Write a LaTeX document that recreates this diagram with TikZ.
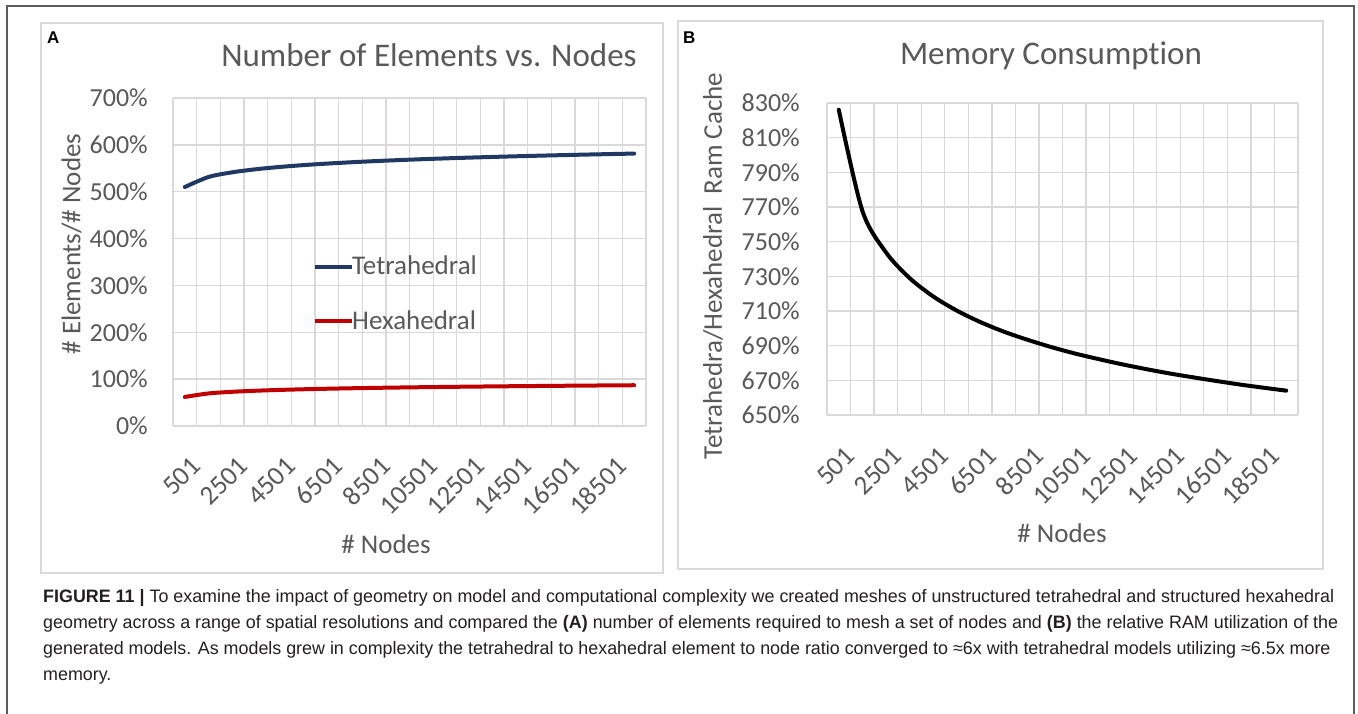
\documentclass[tikz,border=0pt]{standalone}
\usepackage{fontspec}
\usepackage{graphicx}
\setmainfont{Carlito}[Ligatures=NoCommon]
\newfontfamily\capfont{Liberation Sans}

\definecolor{txtgray}{HTML}{595959}
\definecolor{gridgray}{HTML}{D9D9D9}
\definecolor{tetracol}{HTML}{1F3864}
\definecolor{hexacol}{HTML}{C00000}
\definecolor{framecol}{HTML}{5C5C5C}
\definecolor{capcol}{HTML}{231F20}

\newlength\capw
\newcommand\capone{{\bfseries FIGURE 11 |} To examine the impact of geometry on model and computational complexity we created meshes of unstructured tetrahedral and structured hexahedral}
\newcommand\captwo{geometry across a range of spatial resolutions and compared the {\bfseries (A)} number of elements required to mesh a set of nodes and {\bfseries (B)} the relative RAM utilization of the}
\newcommand\capthree{generated models. As models grew in complexity the tetrahedral to hexahedral element to node ratio converged to ≈6x with tetrahedral models utilizing ≈6.5x more}
\newcommand\capfour{memory.}
% horizontal squeeze so that the first caption line spans 1291pt
\AtBeginDocument{%
  \settowidth{\capw}{\capfont\fontsize{18}{22}\selectfont\capone}%
  \pgfmathsetmacro\capsx{1291/\capw}%
}

\tikzset{
  gridln/.style={draw=gridgray, line width=1.3pt},
  panelbox/.style={draw=gridgray, line width=1.6pt},
  outerframe/.style={draw=framecol, line width=1.5pt},
  ticklbl/.style={text=txtgray, inner sep=0pt, font=\fontsize{26}{30}\selectfont},
  xticklbl/.style={text=txtgray, inner sep=0pt, font=\fontsize{27}{31}\selectfont, rotate=45, anchor=north east},
  axtitle/.style={text=txtgray, inner sep=0pt, font=\fontsize{27}{32}\selectfont},
  charttitle/.style={text=txtgray, inner sep=0pt, anchor=base, font=\fontsize{33}{39}\selectfont},
  panellbl/.style={inner sep=0pt, anchor=base west, font=\capfont\bfseries\fontsize{17}{20}\selectfont},
  legendtxt/.style={text=txtgray, inner sep=0pt, anchor=base west, font=\fontsize{27}{32}\selectfont},
  series/.style={line width=4pt, line cap=round, line join=round},
  capline/.style={text=capcol, inner sep=0pt, anchor=base west, font=\capfont\fontsize{18}{22}\selectfont},
}

\begin{document}
\begin{tikzpicture}[x=1pt, y=-1pt]
\useasboundingbox (0,0) rectangle (1358,714);
\fill[white] (0,0) rectangle (1358,714);

% outer figure frame (open at the bottom)
\draw[outerframe] (7,714) -- (7,6) -- (1354,6) -- (1354,714);

% ---------------- Panel A: element / node ratio ----------------
\draw[panelbox] (41,23) rectangle (663,573);
\node[panellbl] (labA) at (47,44) {A};
\node[charttitle] (titA) at (429,67) {Number of Elements vs. Nodes};

% plot area 173..646 (x), 98..426 (y)
\foreach \i in {0,...,20}
  \draw[gridln] ({173+\i*23.65},98) -- ({173+\i*23.65},426);
\foreach \k in {0,...,7}{
  \draw[gridln] (173,{426-\k*46.857}) -- (646,{426-\k*46.857});
  \pgfmathtruncatemacro\pct{\k*100}
  \node[ticklbl, anchor=east] (ya\k) at (148,{426-\k*46.857}) {\pct\%};
}

\foreach \c/\v in {1/501,3/2501,5/4501,7/6501,9/8501,11/10501,13/12501,15/14501,17/16501,19/18501}
  \node[xticklbl] (xa\c) at ({173+(\c-0.5)*23.65+5},455) {\v};

\node[axtitle, rotate=90] (yta) at (71.5,244) {\# Elements/\# Nodes};
\node[axtitle, anchor=base] (xta) at (386,553) {\# Nodes};

% series: one point per category (n = 501 + 1000 (c-1)), smoothed
\draw[series, tetracol] plot[smooth, tension=0.5, variable=\c, domain=1:20, samples=20]
  ({173+(\c-0.5)*23.65}, {426-0.46857*(510+19.5*ln(1+1.996*(\c-1)))});
\draw[series, hexacol] plot[smooth, tension=0.5, variable=\c, domain=1:20, samples=20]
  ({173+(\c-0.5)*23.65}, {426-0.46857*(62+6.83*ln(1+1.996*(\c-1)))});

% legend
\coordinate (lgt1) at (315,267);
\node[legendtxt] (lgtetra) at (352,275) {Tetrahedral};
\draw[series, tetracol, line cap=butt] (lgt1) -- (lgtetra.west |- lgt1);
\coordinate (lgh1) at (315,321);
\node[legendtxt] (lghexa) at (352,329) {Hexahedral};
\draw[series, hexacol, line cap=butt] (lgh1) -- (lghexa.west |- lgh1);

% ---------------- Panel B: memory consumption ----------------
\draw[panelbox] (678,21) rectangle (1323,569);
\node[panellbl] (labB) at (683,44) {B};
\node[charttitle] (titB) at (1051,65) {Memory Consumption};

% plot area 827..1298 (x), 103..415 (y)
\foreach \i in {0,...,20}
  \draw[gridln] ({827+\i*23.55},103) -- ({827+\i*23.55},415);
\foreach \k in {0,...,9}{
  \draw[gridln] (827,{415-\k*34.667}) -- (1298,{415-\k*34.667});
  \pgfmathtruncatemacro\pct{650+\k*20}
  \node[ticklbl, anchor=east] (yb\k) at (800,{415-\k*34.667}) {\pct\%};
}

\foreach \c/\v in {1/501,3/2501,5/4501,7/6501,9/8501,11/10501,13/12501,15/14501,17/16501,19/18501}
  \node[xticklbl] (xb\c) at ({827+(\c-0.5)*23.55+5},445) {\v};

\node[axtitle, rotate=90] (ytb) at (713,266) {Tetrahedra/Hexahedral\ \ Ram Cache};
\node[axtitle, anchor=base] (xtb) at (1062,542) {\# Nodes};

% ratio falls as a power of the node count: 442.8 + 973.6 n^(-0.15)
\draw[series, black] plot[smooth, tension=0.5, variable=\c, domain=1:20, samples=20]
  ({827+(\c-0.5)*23.55}, {415-1.7333*(442.8+973.6*exp(-0.15*(6.2166+ln(1+1.996*(\c-1))))-650)});

% ---------------- Caption ----------------
\node[capline] (cap1) at (43,602) {\scalebox{\capsx}[1]{\capone}};
\node[capline] (cap2) at (43,628) {\scalebox{\capsx}[1]{\captwo}};
\node[capline] (cap3) at (43,654) {\scalebox{\capsx}[1]{\capthree}};
\node[capline] (cap4) at (43,680) {\scalebox{\capsx}[1]{\capfour}};
\end{tikzpicture}
\end{document}
